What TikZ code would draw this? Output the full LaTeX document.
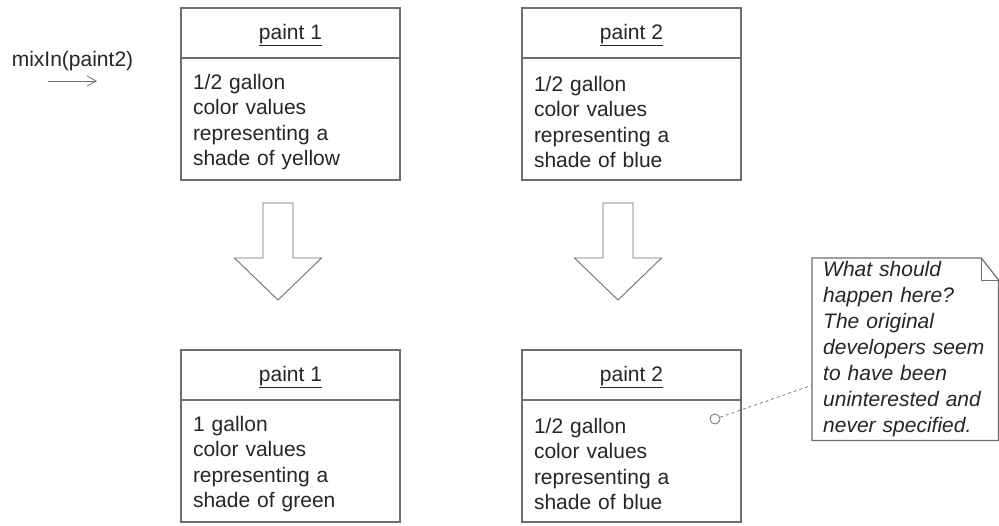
\documentclass[tikz,border=0pt]{standalone}
\usepackage{fontspec}
\setmainfont{Liberation Sans}
\usetikzlibrary{arrows.meta, positioning}
\definecolor{umlline}{HTML}{6E6E6E}
\definecolor{umltext}{HTML}{262626}

\begin{document}
\begin{tikzpicture}[x=1pt, y=-1pt,
    boxline/.style={draw=umlline, line width=1.2pt},
    title/.style={boxline, minimum width=219pt, minimum height=50pt,
      inner sep=0pt, outer sep=0pt, text height=15pt, text depth=3pt,
      text=umltext, font=\fontsize{21}{25.5}\selectfont},
    body/.style={boxline, minimum width=219pt, minimum height=122pt,
      text width=195pt, inner xsep=12pt, inner ysep=0pt, outer sep=0pt,
      align=left, text=umltext, font=\fontsize{21}{25.5}\selectfont},
    hollow/.style={draw=umlline, line width=0.9pt, fill=white, line join=miter},
    notetext/.style={minimum width=186pt, minimum height=182pt,
      text width=164pt, inner xsep=11pt, inner ysep=0pt, align=left,
      text=umltext, font=\fontsize{21}{26}\selectfont\itshape}]
  % Canvas
  \path[fill=white, use as bounding box] (0,0) rectangle (999,525);

  % Message
  \node[text=umltext, font=\fontsize{21}{25.5}\selectfont] (msg) at (72.5,61) {mixIn(paint2)};
  \coordinate (msgtail) at (48,81);
  \coordinate (msghead) at (97,81);
  \draw[-{Straight Barb[length=9pt, width=10pt]}, umlline, line width=0.8pt]
    (msgtail) -- (msghead);

  % Before
  \node[title] (p1title) at (290.5,33) {\underline{paint 1}};
  \node[body, below=0pt of p1title] (p1body)
    {\rule{0pt}{21pt}1/2 gallon\\ color values\\ representing a\\ shade of yellow};
  \node[title] (p2title) at (631.5,33) {\underline{paint 2}};
  \node[body, below=0pt of p2title] (p2body)
    {\rule{0pt}{21pt}1/2 gallon\\ color values\\ representing a\\ shade of blue};

  % After
  \node[title, below=170pt of p1body] (p1newtitle) {\underline{paint 1}};
  \node[body, below=0pt of p1newtitle] (p1newbody)
    {\rule{0pt}{21pt}1 gallon\\ color values\\ representing a\\ shade of green};
  \node[title, below=170pt of p2body] (p2newtitle) {\underline{paint 2}};
  \node[body, below=0pt of p2newtitle] (p2newbody)
    {\rule{0pt}{21pt}1/2 gallon\\ color values\\ representing a\\ shade of blue};

  % Hollow arrows
  \foreach \ax in {278,618} {
    \draw[hollow] (\ax-15,203) -- (\ax+15,203) -- (\ax+15,258) -- (\ax+43.5,258)
      -- (\ax,300) -- (\ax-43.5,258) -- (\ax-15,258) -- cycle;
  }

  % Note
  \node[notetext, anchor=north west] (note) at (812,258)
    {What should\\ happen here?\\ The original\\ developers seem\\ to have been\\ uninterested and\\ never specified.};
  \draw[boxline] (note.north west) -- ([xshift=-17pt]note.north east)
    -- ([yshift=-22pt]note.north east) -- (note.south east)
    -- (note.south west) -- cycle;
  \draw[boxline, line width=0.8pt] ([xshift=-17pt]note.north east)
    |- ([yshift=-22pt]note.north east);

  % Note anchor
  \node[draw=umlline, circle, minimum size=10pt, inner sep=0pt, line width=0.8pt] (pin) at (715,419) {};
  \coordinate (notepin) at ([yshift=-36pt]note.west);
  \draw[umlline, dashed, line width=0.7pt] (pin) -- (notepin);
\end{tikzpicture}
\end{document}
